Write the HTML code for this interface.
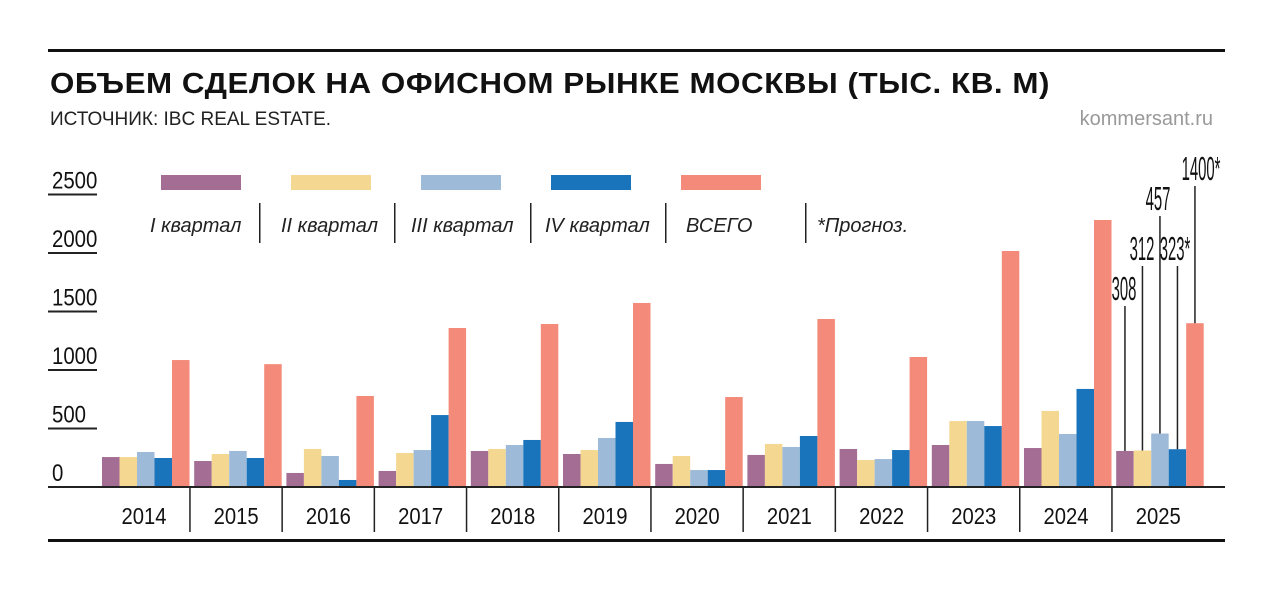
<!DOCTYPE html>
<html><head><meta charset="utf-8"><style>
body{margin:0;background:#fff;width:1280px;height:603px;overflow:hidden;font-family:"Liberation Sans",sans-serif}
svg{display:block}
</style></head><body>
<svg width="1280" height="603">
<rect x="48" y="49" width="1177" height="3" fill="#111"/>
<text x="50" y="93" font-size="29" font-weight="bold" fill="#111" style="letter-spacing:0.5px" textLength="1000" lengthAdjust="spacingAndGlyphs">ОБЪЕМ СДЕЛОК НА ОФИСНОМ РЫНКЕ МОСКВЫ (ТЫС. КВ. М)</text>
<text x="50" y="125" font-size="19" fill="#222">ИСТОЧНИК: IBC REAL ESTATE.</text>
<text x="1213" y="125" font-size="20" fill="#999" text-anchor="end">kommersant.ru</text>
<g id="yax"></g><g id="legend"></g><g id="bars"></g>
<rect x="48" y="539" width="1177" height="3" fill="#111"/>
</svg>
<script>
const years=["2014","2015","2016","2017","2018","2019","2020","2021","2022","2023","2024","2025"];
const q1=[256,222,120,137,308,282,197,274,325,359,333,308];
const q2=[256,282,325,291,325,316,265,368,231,564,650,312];
const q3=[299,308,265,316,359,419,145,342,239,564,453,457];
const q4=[248,248,60,615,402,556,145,436,316,521,838,323];
const total=[1085,1050,778,1359,1393,1573,769,1436,1111,2017,2282,1400];
const yTicks=[0,500,1000,1500,2000,2500];
const seriesNames=["I квартал","II квартал","III квартал","IV квартал","ВСЕГО"];
const colors=["#a36d94","#f4d892","#9dbbd9","#1a74bc","#f48a79"];
const ann=["308","312","457","323*","1400*"];
const NS="http://www.w3.org/2000/svg";
function y(v){return 487-v*0.117;}
function gx(i){return 102+92.2*i;}
function mk(t,a,p){const e=document.createElementNS(NS,t);for(const k in a)e.setAttribute(k,a[k]);p.appendChild(e);return e;}
const yax=document.getElementById('yax');
yTicks.forEach(v=>{
 const t=mk('text',{x:52,y:y(v)-6,'font-size':24,fill:'#111',transform:`translate(52 0) scale(0.85 1) translate(-52 0)`},yax);t.textContent=v;
 
 
 if(v>0){const l=mk('rect',{x:48,y:y(v)-1,width:49,height:2,fill:'#222'},yax);
 
 }
});
const lg=document.getElementById('legend');
const lx=[161,291,421,551,681];
seriesNames.forEach((n,i)=>{
 const r=mk('rect',{x:lx[i],y:175,width:80,height:15,fill:colors[i]},lg);
 
 
 const t=mk('text',{x:[150,281,411,545,686][i],y:232,'font-size':20,'font-style':'italic',fill:'#222'},lg);t.textContent=n;
 
 
});
[259,394,530,665,805].forEach(x=>{const l=mk('rect',{x:x,y:203,width:1.5,height:40,fill:'#222'},lg);
 
 });
const t=mk('text',{x:817,y:232,'font-size':20,'font-style':'italic',fill:'#222'},lg);t.textContent="*Прогноз.";


const bg=document.getElementById('bars');
const series=[q1,q2,q3,q4,total];
years.forEach((yr,i)=>{
 series.forEach((s,j)=>{
  const r=mk('rect',{x:gx(i)+j*17.5,y:y(s[i]),width:17.5,height:s[i]*0.117,fill:colors[j]},bg);
  
  
 });
 const tx=mk('text',{x:gx(i)+42,y:524,'font-size':23,fill:'#111','text-anchor':'middle',transform:`translate(${gx(i)+42} 0) scale(0.88 1) translate(${-(gx(i)+42)} 0)`},bg);tx.textContent=yr;
 
 
 if(i>0){const d=mk('rect',{x:gx(i)-5,y:487,width:1.5,height:45,fill:'#222'},bg);
 
 }
});
const ax=mk('rect',{x:48,y:486,width:1177,height:2,fill:'#222'},bg);


const last=years.length-1;
const labTop=[300,260,210,260,180];
const labX=[1124,1142,1158,1175,1201];
series.forEach((s,j)=>{
 const cx=gx(last)+j*17.5+8.75;
 const l=mk('rect',{x:cx-0.75,y:labTop[j]+6,width:1.5,height:y(s[last])-labTop[j]-6,fill:'#222'},bg);
 
 
 const tt=mk('text',{x:labX[j],y:labTop[j],'font-size':33,fill:'#111','text-anchor':'middle',transform:`translate(${labX[j]} 0) scale(0.45 1) translate(${-labX[j]} 0)`},bg);tt.textContent=ann[j];
 
 
});
</script>
</body></html>
